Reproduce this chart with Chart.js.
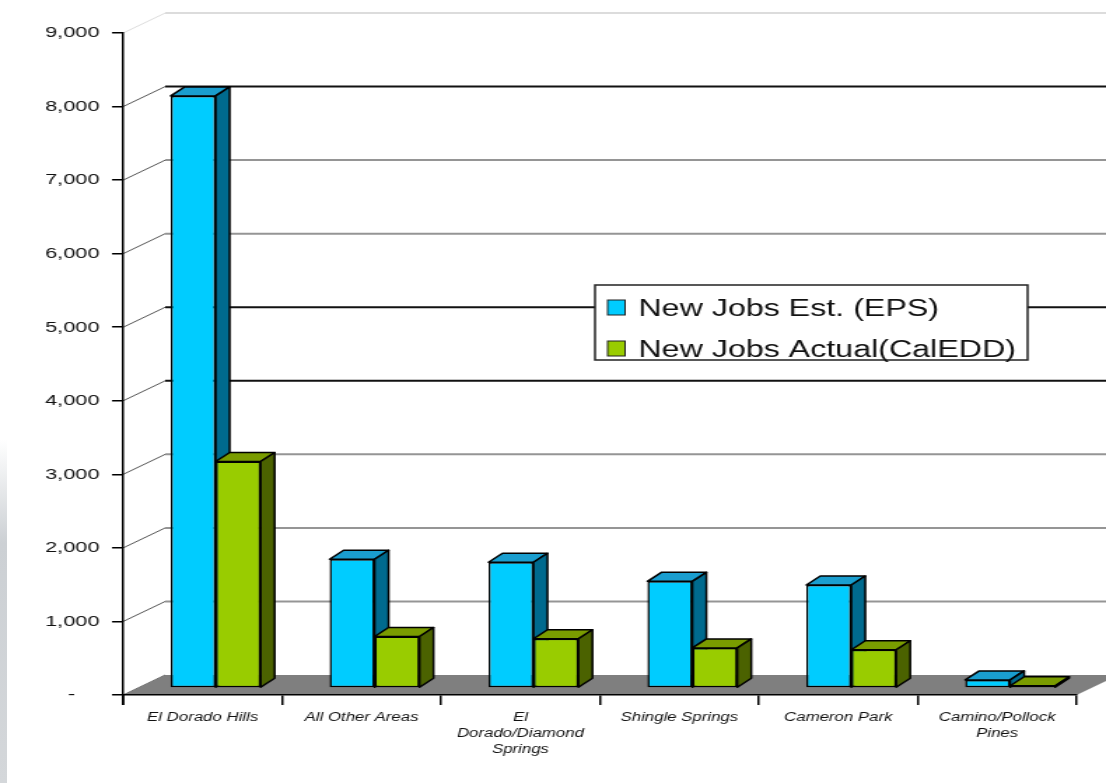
<!DOCTYPE html>
<html>
<head>
<meta charset="utf-8">
<script src="https://cdn.jsdelivr.net/npm/chart.js@4.4.1/dist/chart.umd.min.js"></script>
<style>
  html, body { margin: 0; padding: 0; background: #fff; overflow: hidden; width: 1106px; height: 783px; }
  #edge { position: absolute; left: 0; top: 440px; width: 7px; height: 343px;
          background: linear-gradient(to bottom, rgba(200,204,210,0), #ccd0d4 30%, #d4d7da 100%); }
  #wrap { position: absolute; left: 0; top: 0; width: 790px; height: 783px;
          transform: scaleX(1.4); transform-origin: 0 0; }
  canvas { display: block; }
</style>
</head>
<body>
<div id="edge"></div>
<div id="wrap"><canvas id="c" width="790" height="783"></canvas></div>
<script>
// ---- data ----
const categories = [
  'El Dorado Hills',
  'All Other Areas',
  ['El', 'Dorado/Diamond', 'Springs'],
  'Shingle Springs',
  'Cameron Park',
  ['Camino/Pollock', 'Pines']
];
const seriesNames = ['New Jobs Est. (EPS)', 'New Jobs Actual(CalEDD)'];
const estJobs    = [8050, 1750, 1710, 1450, 1400, 110];
const actualJobs = [3080, 700, 670, 545, 520, 30];
const yTicks = [0, 1000, 2000, 3000, 4000, 5000, 6000, 7000, 8000, 9000];

// ---- styles ----
const frontColors = ['#00CCFF', '#99CC00'];
const topColors   = ['#1A9ECF', '#7A9C00'];
const sideColors  = ['#006A8E', '#4B6200'];
const WALL = { dx: 30, dy: -20 };
const BAR_SHIFT = { x: 9.3, y: -7 };
const BAR_DEPTH = { dx: 10, dy: -9 };
const darkGridValues = [8000, 5000, 4000];

function drawFaces(ctx, el, i) {
  const x0 = el.x - el.width / 2, x1 = el.x + el.width / 2;
  const yt = el.y, yb = el.base;
  const dx = BAR_DEPTH.dx, dy = BAR_DEPTH.dy;
  ctx.lineWidth = 1.5;
  ctx.strokeStyle = '#000';
  ctx.lineJoin = 'round';
  ctx.fillStyle = topColors[i];
  ctx.beginPath();
  ctx.moveTo(x0, yt); ctx.lineTo(x0 + dx, yt + dy); ctx.lineTo(x1 + dx, yt + dy); ctx.lineTo(x1, yt);
  ctx.closePath(); ctx.fill(); ctx.stroke();
  ctx.fillStyle = sideColors[i];
  ctx.beginPath();
  ctx.moveTo(x1, yt); ctx.lineTo(x1 + dx, yt + dy); ctx.lineTo(x1 + dx, yb + dy); ctx.lineTo(x1, yb);
  ctx.closePath(); ctx.fill(); ctx.stroke();
}

const threeD = {
  id: 'threeD',
  beforeDraw(chart) {
    const { ctx, chartArea: a, scales: { y } } = chart;
    ctx.save();
    yTicks.forEach(v => {
      const py = y.getPixelForValue(v);
      if (v > 0) {
        ctx.strokeStyle = v === 9000 ? '#dcdcdc' : (darkGridValues.includes(v) ? '#111' : '#959595');
        ctx.lineWidth = 2;
        ctx.beginPath();
        ctx.moveTo(a.left + WALL.dx, py + WALL.dy);
        ctx.lineTo(chart.width, py + WALL.dy);
        ctx.stroke();
      }
      ctx.strokeStyle = v === 9000 ? '#dcdcdc' : '#555';
      ctx.lineWidth = 1;
      ctx.beginPath();
      ctx.moveTo(a.left, py);
      ctx.lineTo(a.left + WALL.dx, py + WALL.dy);
      ctx.stroke();
    });
    const yb = y.getPixelForValue(0);
    ctx.fillStyle = '#7f7f7f';
    ctx.beginPath();
    ctx.moveTo(a.left, yb);
    ctx.lineTo(a.right, yb);
    ctx.lineTo(a.right + WALL.dx, yb + WALL.dy);
    ctx.lineTo(a.left + WALL.dx, yb + WALL.dy);
    ctx.closePath();
    ctx.fill();
    ctx.restore();
  },
  beforeDatasetsDraw(chart) {
    chart.ctx.save();
    chart.ctx.translate(BAR_SHIFT.x, BAR_SHIFT.y);
  },
  afterDatasetsDraw(chart) {
    const ctx = chart.ctx;
    const m0 = chart.getDatasetMeta(0), m1 = chart.getDatasetMeta(1);
    m0.data.forEach(el => drawFaces(ctx, el, 0));
    m1.data.forEach(el => { el.draw(ctx); drawFaces(ctx, el, 1); });
    ctx.restore();
  },
  afterDraw(chart) {
    const { ctx, chartArea: a } = chart;
    ctx.save();
    ctx.strokeStyle = '#000';
    ctx.lineWidth = 1.5;
    ctx.beginPath(); ctx.moveTo(a.left, a.bottom); ctx.lineTo(a.left, a.bottom + 10); ctx.stroke();
    // legend
    const lx = 425, ly = 285, lw = 309, lh = 75;
    ctx.fillStyle = '#fff';
    ctx.fillRect(lx, ly, lw, lh);
    ctx.strokeStyle = '#222';
    ctx.lineWidth = 1.5;
    ctx.strokeRect(lx, ly, lw, lh);
    ctx.font = '23px "Liberation Sans", Arial, sans-serif';
    ctx.textBaseline = 'alphabetic';
    ctx.textAlign = 'left';
    const baselines = [316, 357];
    seriesNames.forEach((name, i) => {
      const b = baselines[i];
      ctx.fillStyle = frontColors[i];
      ctx.fillRect(434, b - 16, 12.5, 15);
      ctx.strokeStyle = '#222';
      ctx.lineWidth = 1;
      ctx.strokeRect(434, b - 16, 12.5, 15);
      ctx.fillStyle = '#111';
      ctx.fillText(name, 456, b);
    });
    ctx.restore();
  }
};

new Chart(document.getElementById('c'), {
  type: 'bar',
  data: {
    labels: categories,
    datasets: [
      { label: seriesNames[0], data: estJobs, backgroundColor: frontColors[0],
        borderColor: '#000', borderWidth: 1.5, borderSkipped: false },
      { label: seriesNames[1], data: actualJobs, backgroundColor: frontColors[1],
        borderColor: '#000', borderWidth: 1.5, borderSkipped: false }
    ]
  },
  options: {
    responsive: false,
    animation: false,
    devicePixelRatio: 1,
    layout: { padding: { top: 33, right: 21, bottom: 0, left: 0 } },
    datasets: { bar: { categoryPercentage: 0.566, barPercentage: 1.0 } },
    plugins: { legend: { display: false }, tooltip: { enabled: false } },
    scales: {
      x: {
        afterFit(s) { s.height = 88; },
        grid: { display: true, drawOnChartArea: false, drawTicks: true, tickLength: 10, color: '#000', lineWidth: 1.5, offset: true },
        border: { display: true, color: '#000', width: 1.5 },
        ticks: {
          autoSkip: false, maxRotation: 0, minRotation: 0, padding: 5, color: '#111',
          font: { family: '"Liberation Sans", Arial, sans-serif', size: 12, style: 'italic', lineHeight: 1.333 }
        }
      },
      y: {
        min: 0, max: 9000,
        afterFit(s) { s.width = 88; },
        afterBuildTicks(s) { s.ticks = yTicks.map(v => ({ value: v })); },
        grid: { display: true, drawOnChartArea: false, drawTicks: true, tickLength: 8, color: '#000', lineWidth: 1.5 },
        border: { display: true, color: '#000', width: 1.5 },
        ticks: {
          padding: 9, color: '#111',
          font: { family: '"Liberation Sans", Arial, sans-serif', size: 15.5 },
          callback: v => v === 0 ? '-    ' : v.toLocaleString('en-US')
        }
      }
    }
  },
  plugins: [threeD]
});
</script>
</body>
</html>
